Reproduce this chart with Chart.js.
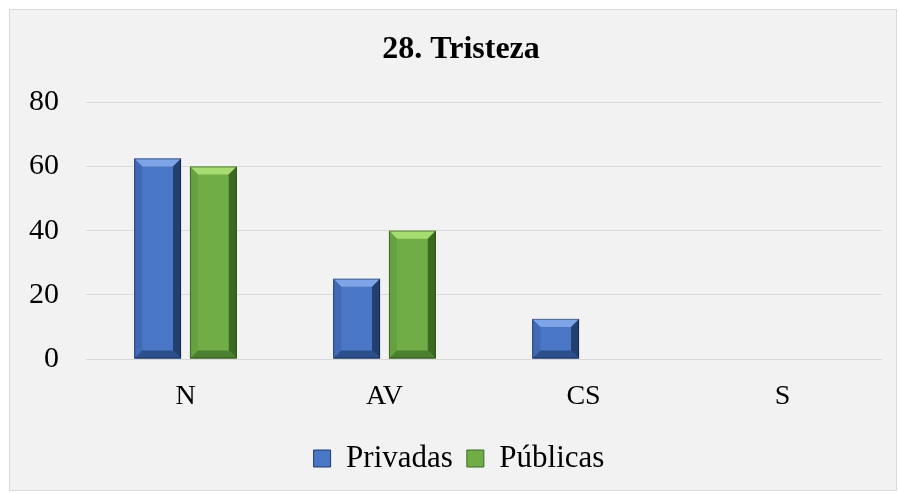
<!DOCTYPE html>
<html>
<head>
<meta charset="utf-8">
<script src="https://cdn.jsdelivr.net/npm/chart.js@4"></script>
<style>
  html, body { margin: 0; padding: 0; background: #ffffff; }
  #frame {
    position: absolute; left: 9px; top: 9px;
    width: 886px; height: 480px;
    border: 1px solid #d9d9d9; background: #f2f2f2;
  }
  #chart { display: block; }
</style>
</head>
<body>
<div id="frame"><canvas id="chart" width="886" height="480"></canvas></div>
<script>
// data
let categories = ['N', 'AV', 'CS', 'S'];
let privadas = [62.5, 25, 12.5, 0];
let publicas = [60, 40, 0, 0];
let yTicks = [0, 20, 40, 60, 80];

const serif = "'Liberation Serif', 'Times New Roman', serif";

// colours for the beveled bars: main, top, left, right, bottom
const blueShades = ['#4a76c6', '#7ea3e6', '#4169b5', '#22406f', '#2d4f8c'];
const greenShades = ['#70ad47', '#a6dc72', '#67a13f', '#3c6a20', '#4b8030'];

// draws the bevel look on top of every bar
const bevelPlugin = {
  id: 'bevel',
  afterLayout(chart) {
    // legend and title in the picture sit a bit right of centre
    chart.legend.left += 13;
    chart.legend.right += 13;
    if (chart.titleBlock) {
      chart.titleBlock.left += 15;
      chart.titleBlock.right += 15;
    }
  },
  afterDatasetsDraw(chart) {
    const ctx = chart.ctx;
    chart.data.datasets.forEach((ds, i) => {
      const meta = chart.getDatasetMeta(i);
      const shades = i === 0 ? blueShades : greenShades;
      meta.data.forEach((bar, j) => {
        if (!ds.data[j]) return;
        const w = bar.width;
        const l = bar.x - w / 2, r = bar.x + w / 2;
        const t = bar.y, b = bar.base;
        const e = Math.min(8, (b - t) / 2);
        ctx.save();
        ctx.fillStyle = shades[0];
        ctx.fillRect(l, t, w, b - t);
        let poly = (pts, col) => {
          ctx.beginPath();
          ctx.moveTo(pts[0][0], pts[0][1]);
          pts.slice(1).forEach(p => ctx.lineTo(p[0], p[1]));
          ctx.closePath();
          ctx.fillStyle = col;
          ctx.fill();
        };
        poly([[l, t], [r, t], [r - e, t + e], [l + e, t + e]], shades[1]);
        poly([[l, t], [l + e, t + e], [l + e, b - e], [l, b]], shades[2]);
        poly([[r, t], [r, b], [r - e, b - e], [r - e, t + e]], shades[3]);
        poly([[l, b], [l + e, b - e], [r - e, b - e], [r, b]], shades[4]);
        ctx.strokeStyle = 'rgba(0,0,0,0.35)';
        ctx.lineWidth = 1;
        ctx.strokeRect(l + 0.5, t + 0.5, w - 1, b - t - 1);
        ctx.restore();
      });
    });
  }
};

const ctx = document.getElementById('chart').getContext('2d');
const chart = new Chart(ctx, {
  type: 'bar',
  data: {
    labels: categories,
    datasets: [
      {
        label: 'Privadas',
        data: privadas,
        backgroundColor: blueShades[0],
        borderColor: '#1f3a6e',
        borderWidth: 1,
        categoryPercentage: 0.56,
        barPercentage: 0.84
      },
      {
        label: 'Públicas',
        data: publicas,
        backgroundColor: greenShades[0],
        borderColor: '#3c6a20',
        borderWidth: 1,
        categoryPercentage: 0.56,
        barPercentage: 0.84
      }
    ]
  },
  options: {
    responsive: false,
    animation: false,
    layout: { padding: { left: 0, right: 14, top: 0, bottom: 6 } },
    plugins: {
      title: {
        display: true,
        text: '28. Tristeza',
        color: '#000000',
        font: { family: serif, size: 32, weight: 'bold' },
        padding: { top: 21, bottom: 33 }
      },
      legend: {
        position: 'bottom',
        labels: {
          color: '#000000',
          font: { family: serif, size: 31 },
          boxWidth: 17,
          boxHeight: 17,
          padding: 14
        }
      },
      tooltip: { enabled: false }
    },
    scales: {
      x: {
        grid: { display: false },
        border: { display: false },
        ticks: { color: '#000000', font: { family: serif, size: 28 }, padding: 13 },
        afterFit(scale) { scale.height = 70; }
      },
      y: {
        min: 0,
        max: 80,
        afterBuildTicks(scale) { scale.ticks = yTicks.map(v => ({ value: v })); },
        grid: { color: '#d9d9d9', drawTicks: false },
        border: { display: false },
        ticks: { color: '#000000', font: { family: serif, size: 30 }, padding: 27 },
        afterFit(scale) { scale.width = 76; }
      }
    }
  },
  plugins: [bevelPlugin]
});
</script>
</body>
</html>
